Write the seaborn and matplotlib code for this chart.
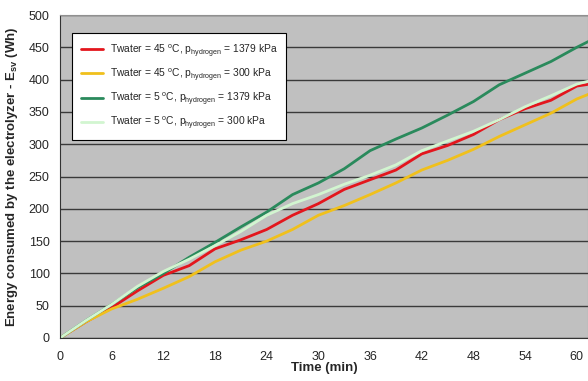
import numpy as np
import pandas as pd
import seaborn as sns
import matplotlib.pyplot as plt

# data
time_min = [0, 3, 6, 9, 12, 15, 18, 21, 24, 27, 30, 33, 36, 39, 42, 45, 48, 51, 54, 57, 60, 61.5]
e_45_1379 = [0, 25, 47, 73, 97, 112, 138, 152, 168, 190, 208, 230, 245, 260, 285, 298, 315, 338, 355, 368, 390, 393]
e_45_300 = [0, 25, 45, 60, 77, 95, 118, 136, 150, 168, 190, 205, 222, 240, 260, 275, 292, 312, 330, 348, 370, 378]
e_5_1379 = [0, 27, 52, 78, 100, 125, 148, 172, 195, 222, 240, 262, 290, 308, 325, 345, 366, 392, 410, 428, 450, 460]
e_5_300 = [0, 27, 52, 80, 103, 122, 143, 165, 190, 208, 222, 238, 252, 268, 290, 305, 320, 338, 358, 375, 393, 398]

labels = [
    r"Twater = 45 $^{\mathregular{o}}$C, p$_{\mathregular{hydrogen}}$ = 1379 kPa",
    r"Twater = 45 $^{\mathregular{o}}$C, p$_{\mathregular{hydrogen}}$ = 300 kPa",
    r"Twater = 5 $^{\mathregular{o}}$C, p$_{\mathregular{hydrogen}}$ = 1379 kPa",
    r"Twater = 5 $^{\mathregular{o}}$C, p$_{\mathregular{hydrogen}}$ = 300 kPa",
]
colors = ["#e3161d", "#f0c01c", "#2a8a5c", "#d2f5d0"]

frames = []
for lab, vals in zip(labels, [e_45_1379, e_45_300, e_5_1379, e_5_300]):
    frames.append(pd.DataFrame({"Time": time_min, "Energy": vals, "Case": lab}))
df = pd.concat(frames, ignore_index=True)

sns.set_style("white")
plt.rcParams["font.family"] = ["Liberation Sans", "DejaVu Sans"]
plt.rcParams["mathtext.fontset"] = "custom"
plt.rcParams["mathtext.rm"] = "Liberation Sans"

fig = plt.figure(figsize=(5.88, 3.81), dpi=100)
ax = fig.add_axes([60 / 588, 1 - 338 / 381, 528 / 588, 323 / 381])
ax.set_facecolor("#c0c0c0")

sns.lineplot(data=df, x="Time", y="Energy", hue="Case", palette=colors,
             linewidth=2, ax=ax, sort=False, estimator=None)

ax.set_xlim(0, 61.3)
ax.set_ylim(0, 500)
ax.set_xticks(np.arange(0, 61, 6))
ax.set_yticks(np.arange(0, 501, 50))
ax.yaxis.grid(True, color="#3a3a3a", linewidth=1)
ax.set_axisbelow(True)
ax.tick_params(axis="both", labelsize=9, length=4, width=0.8, color="#333333", direction="out")
ax.tick_params(axis="x", pad=5)
for s in ["left", "bottom"]:
    ax.spines[s].set_color("#333333")
for s in ["top", "right"]:
    ax.spines[s].set_color("#909090")

ax.set_xlabel("Time (min)", fontsize=9.5, fontweight="bold", labelpad=0)
ax.set_ylabel(r"Energy consumed by the electrolyzer - E$_{\mathregular{sv}}$ (Wh)",
              fontsize=9.5, fontweight="bold", labelpad=6)

leg = ax.legend(loc="upper left", bbox_to_anchor=(0.023, 0.944), fontsize=7.4,
                frameon=True, fancybox=False, edgecolor="black", framealpha=1,
                handlelength=2.2, handletextpad=0.6, labelspacing=0.72,
                borderpad=0.85, borderaxespad=0)
leg.get_frame().set_linewidth(0.8)

plt.savefig("out.png", dpi=100)
